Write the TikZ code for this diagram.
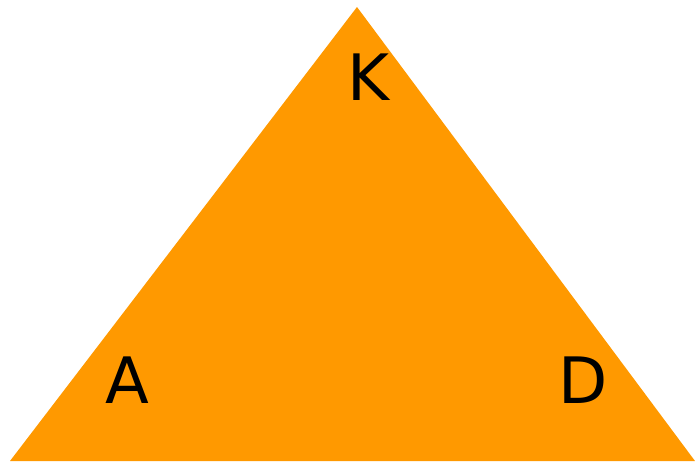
\documentclass[tikz,border=0pt]{standalone}
\usepackage{fontspec}
\setmainfont{DejaVu Sans}
\definecolor{tri}{RGB}{255,153,0}
\begin{document}
\begin{tikzpicture}[x=1pt,y=-1pt,
  lbl/.style={font=\fontsize{64}{70}\selectfont, text=black, inner sep=0pt, anchor=center}]
\useasboundingbox (0,0) rectangle (695,461);
\coordinate (top) at (357,7);
\coordinate (bl) at (10,461);
\coordinate (br) at (695,461);
\fill[tri] (top) -- (bl) -- (br) -- cycle;
\node[lbl] (K) at (368,77) {\vphantom{K}K};
\node[lbl] (A) at (127,380) {A};
\node[lbl] (D) at (583,380) {D};
\end{tikzpicture}
\end{document}
